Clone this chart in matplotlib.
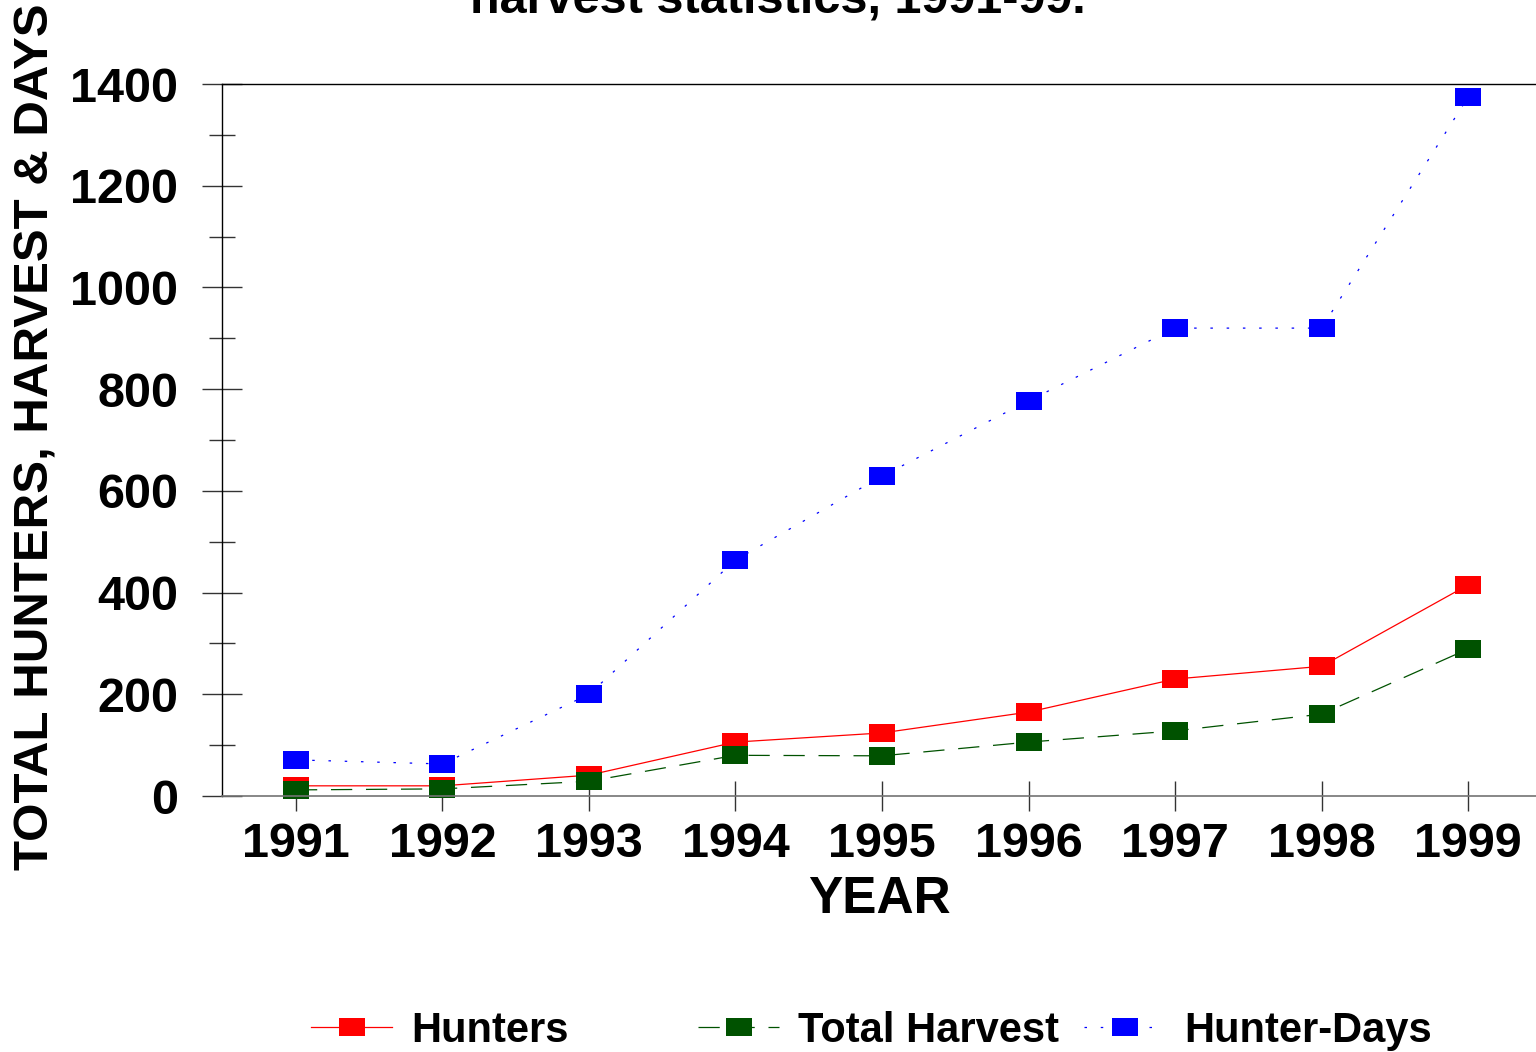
import matplotlib
matplotlib.use("Agg")
import matplotlib.pyplot as plt
from matplotlib.ticker import MultipleLocator

# data
years = [1991, 1992, 1993, 1994, 1995, 1996, 1997, 1998, 1999]
hunters = [20, 20, 41, 106, 124, 165, 230, 255, 415]
harvest = [12, 14, 29, 80, 79, 106, 128, 161, 289]
hunter_days = [71, 63, 200, 464, 629, 777, 920, 920, 1374]

plt.rcParams['font.family'] = ['Liberation Sans', 'DejaVu Sans']
plt.rcParams['font.weight'] = 'bold'

# wide rectangle marker like the original
rect = [(-1, -0.73), (1, -0.73), (1, 0.73), (-1, 0.73), (-1, -0.73)]
msize = 18.7

fig = plt.figure(figsize=(15.36, 10.52), dpi=100)
ax = fig.add_axes([222 / 1536, 1 - 796 / 1052, 1 - 222 / 1536, (796 - 84) / 1052])

l1, = ax.plot(years, hunters, color='#ff0000', lw=0.9, marker=rect, ms=msize,
              mew=0, mfc='#ff0000', label='Hunters', clip_on=False)
l2, = ax.plot(years, harvest, color='#005200', lw=0.9, marker=rect, ms=msize,
              mew=0, mfc='#005200', label='Total Harvest', clip_on=False)
l2.set_dashes((17, 11))
l3, = ax.plot(years, hunter_days, color='#0000ff', lw=0.9, marker=rect, ms=msize,
              mew=0, mfc='#0000ff', label='Hunter-Days', clip_on=False)
l3.set_dashes((2, 11))

ax.set_xlim(1990.495, 1999.464)
ax.set_ylim(0, 1400)
ax.set_xticks(years)
ax.yaxis.set_major_locator(MultipleLocator(200))
ax.yaxis.set_minor_locator(MultipleLocator(100))

ax.spines['right'].set_visible(False)
ax.spines['top'].set_linewidth(1.0)
ax.spines['left'].set_linewidth(1.0)
ax.spines['bottom'].set_linewidth(1.2)
ax.spines['bottom'].set_color('0.45')

ax.tick_params(axis='y', which='major', direction='inout', length=29, width=1.0,
               labelsize=35, pad=17, color='0.2')
ax.tick_params(axis='y', which='minor', direction='inout', length=19, width=1.0,
               color='0.2')
ax.tick_params(axis='x', which='major', direction='inout', length=21, width=1.0,
               labelsize=35, pad=8, color='0.2')
for t in ax.get_xticklabels() + ax.get_yticklabels():
    t.set_fontweight('bold')

ax.set_xlabel('YEAR', fontsize=37, fontweight='bold', labelpad=6)
fig.text(36 / 1536, 1 - 870 / 1052, 'TOTAL HUNTERS, HARVEST & DAYS', rotation=90,
         ha='center', va='bottom', fontsize=35.5, fontweight='bold')

# title, only the last line fits on the page
fig.text(778 / 1536, 1 - 13 / 1052, 'harvest statistics, 1991-99.', ha='center',
         va='baseline', fontsize=35, fontweight='bold')

# legend entries are spaced unevenly, so one legend per entry
for line, x0 in [(l1, 311), (l2, 698), (l3, 1084)]:
    fig.legend(handles=[line], loc='center left', bbox_to_anchor=(x0 / 1536, 1 - 1031 / 1052),
               frameon=False, handlelength=1.95, handletextpad=0.45,
               borderpad=0, borderaxespad=0, prop={'weight': 'bold', 'size': 30})

fig.savefig('out.png', dpi=100)
